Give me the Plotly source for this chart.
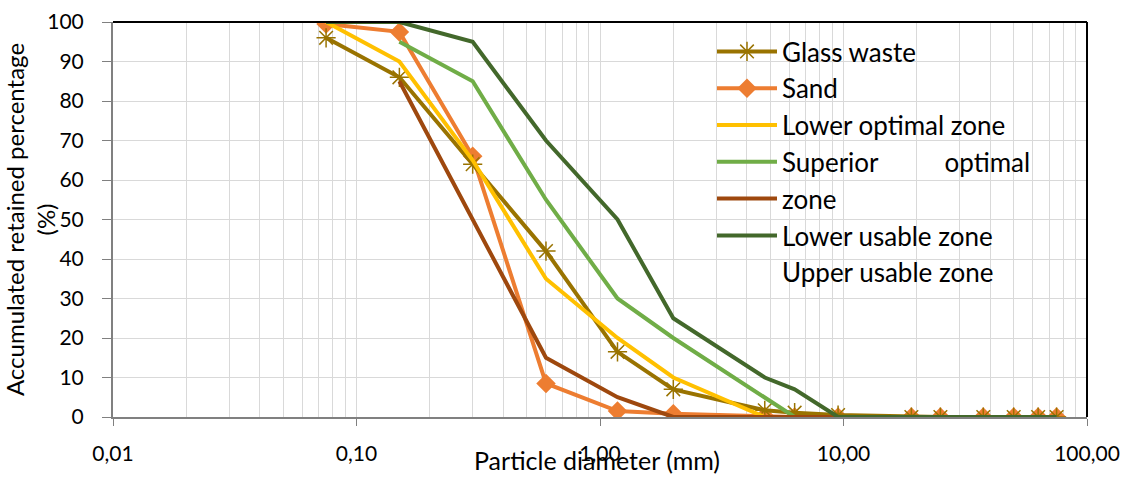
import plotly.graph_objects as go

# ---- data ----
sieve_mm = [0.075, 0.15, 0.3, 0.6, 1.18, 2.0, 4.75, 6.3, 9.5, 19, 25, 37.5, 50, 63, 75]
glass_waste = [96, 86, 64, 42, 16.5, 7, 1.7, 1.1, 0.5, 0, 0, 0, 0, 0, 0]
sand = [99.5, 97.5, 66, 8.5, 1.5, 0.8, 0.2, 0, 0, 0, 0, 0, 0, 0, 0]
lower_optimal = [100, 90, 65, 35, 20, 10, 0, 0, 0, 0, 0, 0, 0, 0, 0]
superior_optimal = [None, 95, 85, 55, 30, 20, 5, 0, 0, 0, 0, 0, 0, 0, 0]
lower_usable = [None, 85, 50, 15, 5, 0, 0, 0, 0, 0, 0, 0, 0, 0, 0]
upper_usable = [100, 100, 95, 70, 50, 25, 10, 7, 0, 0, 0, 0, 0, 0, 0]

x_tickvals = [0.01, 0.1, 1, 10, 100]
x_ticktext = ["0,01", "0,10", "1,00", "10,00", "100,00"]
y_tickvals = [0, 10, 20, 30, 40, 50, 60, 70, 80, 90, 100]

# legend texts as laid out in the reference (wrapped entry shifts the labels)
legend_labels = ["Glass waste", "Sand", "Lower optimal zone",
                 "Superior" + "\u00a0" * 10 + "optimal",
                 "zone", "Lower usable zone", "Upper usable zone"]
true_names = ["Glass waste", "Sand", "Lower optimal zone", "Superior optimal zone",
              "Lower usable zone", "Upper usable zone"]

FONT = "Lato"
fig = go.Figure()

def hov(name):
    return name + "<br>d = %{x} mm<br>%{y}%<extra></extra>"

fig.add_trace(go.Scatter(x=sieve_mm, y=sand, name=legend_labels[1], legendrank=2,
                         mode="lines+markers", line=dict(color="#ED7D31", width=4),
                         marker=dict(symbol="diamond", size=15, color="#ED7D31"),
                         hovertemplate=hov(true_names[1])))
fig.add_trace(go.Scatter(x=sieve_mm, y=glass_waste, name=legend_labels[0], legendrank=1,
                         mode="lines+markers", line=dict(color="#997300", width=4),
                         marker=dict(symbol="asterisk-open", size=16,
                                     line=dict(color="#997300", width=1.5)),
                         hovertemplate=hov(true_names[0])))
fig.add_trace(go.Scatter(x=sieve_mm, y=lower_optimal, name=legend_labels[2], legendrank=3,
                         mode="lines", line=dict(color="#FFC000", width=4),
                         hovertemplate=hov(true_names[2])))
fig.add_trace(go.Scatter(x=sieve_mm, y=superior_optimal, name=legend_labels[3], legendrank=4,
                         mode="lines", line=dict(color="#70AD47", width=4),
                         hovertemplate=hov(true_names[3])))
fig.add_trace(go.Scatter(x=sieve_mm, y=lower_usable, name=legend_labels[4], legendrank=5,
                         mode="lines", line=dict(color="#9E480E", width=4),
                         hovertemplate=hov(true_names[4])))
fig.add_trace(go.Scatter(x=sieve_mm, y=upper_usable, name=legend_labels[5], legendrank=6,
                         mode="lines", line=dict(color="#43682B", width=4),
                         hovertemplate=hov(true_names[5])))
# text-only legend row (the last wrapped label line)
fig.add_trace(go.Scatter(x=[None], y=[None], name=legend_labels[6], legendrank=7,
                         mode="lines", line=dict(color="rgba(0,0,0,0)", width=4),
                         hoverinfo="skip"))

fig.update_layout(
    width=1129, height=477,
    margin=dict(l=113, r=42, t=22, b=60),
    paper_bgcolor="white", plot_bgcolor="white",
    font=dict(family=FONT, color="#000000", size=21),
    showlegend=True,
    legend=dict(x=(712 - 113) / 974, y=(417 - 28) / 395, xanchor="left", yanchor="top",
                bgcolor="rgba(0,0,0,0)", font=dict(size=26, family=FONT),
                itemwidth=60, tracegroupgap=0, traceorder="normal"),
    xaxis=dict(type="log", range=[-2, 2], tickvals=x_tickvals, ticktext=x_ticktext,
               automargin=False,
               showgrid=True, gridcolor="#D9D9D9", gridwidth=1,
               minor=dict(dtick="D1", showgrid=True, gridcolor="#D9D9D9", gridwidth=1, ticks=""),
               showline=True, linecolor="#808080", linewidth=2,
               ticks="outside", ticklen=7, tickcolor="#808080", tickwidth=1,
               ticklabelstandoff=10,
               tickfont=dict(size=21, family=FONT),
               zeroline=False),
    yaxis=dict(range=[0, 100], tickvals=y_tickvals, automargin=False,
               showgrid=True, gridcolor="#D9D9D9", gridwidth=1,
               showline=True, linecolor="#808080", linewidth=2,
               ticks="outside", ticklen=9, tickcolor="#808080", tickwidth=1,
               ticklabelstandoff=14,
               tickfont=dict(size=21, family=FONT),
               title=dict(text="Accumulated retained percentage<br>(%)",
                          font=dict(size=24, family=FONT), standoff=0),
               zeroline=False),
    annotations=[
        dict(text="Particle diameter (mm)", xref="paper", yref="paper",
             x=(596.5 - 113) / 974, y=(417 - 477) / 395, xanchor="center", yanchor="bottom",
             showarrow=False, font=dict(size=25, family=FONT, color="#000000")),
    ],
    shapes=[
        # white legend box hiding the grid behind the legend text
        dict(type="rect", xref="paper", yref="paper",
             x0=(766 - 113) / 974, x1=(1040 - 113) / 974,
             y0=(417 - 243) / 395, y1=(417 - 27) / 395,
             fillcolor="white", line=dict(width=0), layer="between"),
        # black top and right plot borders
        dict(type="line", xref="paper", yref="paper", x0=0, x1=1, y0=1, y1=1,
             line=dict(color="black", width=2)),
        dict(type="line", xref="paper", yref="paper", x0=1, x1=1, y0=0, y1=1,
             line=dict(color="black", width=2)),
    ],
)

fig.write_html("out.html")
